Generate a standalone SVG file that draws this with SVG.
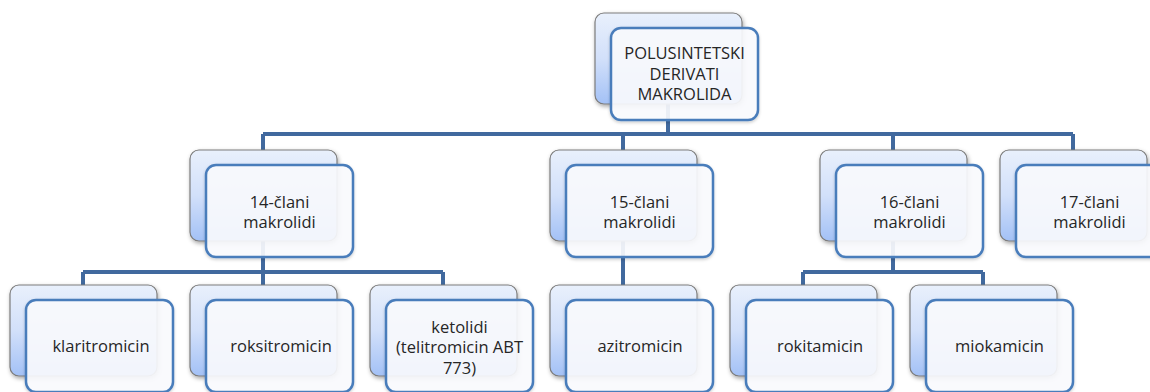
<svg xmlns="http://www.w3.org/2000/svg" width="1150" height="392" viewBox="0 0 1150 392">
<defs>
<linearGradient id="bg" x1="0" y1="0" x2="0" y2="1">
<stop offset="0" stop-color="#e9f0fc"/>
<stop offset="0.5" stop-color="#d2e0fa"/>
<stop offset="1" stop-color="#a3c1f6"/>
</linearGradient>
<filter id="sh" x="-10%" y="-10%" width="125%" height="130%">
<feDropShadow dx="1" dy="2" stdDeviation="2" flood-color="#000" flood-opacity="0.35"/>
</filter>
<filter id="sh2" x="-10%" y="-10%" width="125%" height="130%">
<feDropShadow dx="0" dy="1.5" stdDeviation="1.5" flood-color="#000" flood-opacity="0.2"/>
</filter>
</defs>
<style>
.back{fill:url(#bg);stroke:#7c7c7c;stroke-width:1.2;filter:url(#sh)}
.front{fill:#fbfcff;fill-opacity:0.9;stroke:#4a7dbb;stroke-width:2.5;filter:url(#sh2)}
.conn{fill:none;stroke:#41699e;stroke-width:4;stroke-linejoin:miter;stroke-linecap:butt}
text{font-family:"Open Sans","Noto Sans","Liberation Sans",sans-serif;font-size:16.5px;fill:#262626;text-anchor:middle}
</style>
<g id="connectors" class="conn">
<path d="M668 104 V134 M263 134 H1073 M263 134 V150 M623 134 V150 M893 134 V150 M1073 134 V150"/>
<path d="M263 241 V272 M83 272 H443 M83 272 V285 M263 272 V285 M443 272 V285"/>
<path d="M623 241 V285"/>
<path d="M893 241 V272 M803 272 H983 M803 272 V285 M983 272 V285"/>
</g>
<g id="root">
<rect class="back" x="595" y="13" width="147" height="91" rx="9"/>
<rect class="front" x="611" y="28" width="147" height="92" rx="10"/>
<text x="684.5" y="59">POLUSINTETSKI</text>
<text x="684.5" y="79.5">DERIVATI</text>
<text x="684.5" y="100">MAKROLIDA</text>
</g>
<g id="n14">
<rect class="back" x="190" y="150" width="147" height="91" rx="9"/>
<rect class="front" x="206" y="165" width="147" height="92" rx="10"/>
<text x="279.5" y="207.5">14-člani</text>
<text x="279.5" y="228">makrolidi</text>
</g>
<g id="n15">
<rect class="back" x="550" y="150" width="147" height="91" rx="9"/>
<rect class="front" x="566" y="165" width="147" height="92" rx="10"/>
<text x="639.5" y="207.5">15-člani</text>
<text x="639.5" y="228">makrolidi</text>
</g>
<g id="n16">
<rect class="back" x="820" y="150" width="147" height="91" rx="9"/>
<rect class="front" x="836" y="165" width="147" height="92" rx="10"/>
<text x="909.5" y="207.5">16-člani</text>
<text x="909.5" y="228">makrolidi</text>
</g>
<g id="n17">
<rect class="back" x="1000" y="150" width="147" height="91" rx="9"/>
<rect class="front" x="1016" y="165" width="147" height="92" rx="10"/>
<text x="1089.5" y="207.5">17-člani</text>
<text x="1089.5" y="228">makrolidi</text>
</g>
<g id="klaritromicin">
<rect class="back" x="10" y="285" width="147" height="91" rx="9"/>
<rect class="front" x="26" y="300" width="147" height="92" rx="10"/>
<text x="101" y="352">klaritromicin</text>
</g>
<g id="roksitromicin">
<rect class="back" x="190" y="285" width="147" height="91" rx="9"/>
<rect class="front" x="206" y="300" width="147" height="92" rx="10"/>
<text x="281" y="352">roksitromicin</text>
</g>
<g id="ketolidi">
<rect class="back" x="370" y="285" width="147" height="91" rx="9"/>
<rect class="front" x="386" y="300" width="147" height="92" rx="10"/>
<text x="459.5" y="332.5">ketolidi</text>
<text x="459.5" y="353">(telitromicin ABT</text>
<text x="459.5" y="373.5">773)</text>
</g>
<g id="azitromicin">
<rect class="back" x="550" y="285" width="147" height="91" rx="9"/>
<rect class="front" x="566" y="300" width="147" height="92" rx="10"/>
<text x="640" y="352">azitromicin</text>
</g>
<g id="rokitamicin">
<rect class="back" x="730" y="285" width="147" height="91" rx="9"/>
<rect class="front" x="746" y="300" width="147" height="92" rx="10"/>
<text x="820" y="352">rokitamicin</text>
</g>
<g id="miokamicin">
<rect class="back" x="910" y="285" width="147" height="91" rx="9"/>
<rect class="front" x="926" y="300" width="147" height="92" rx="10"/>
<text x="999.5" y="352">miokamicin</text>
</g>
</svg>
